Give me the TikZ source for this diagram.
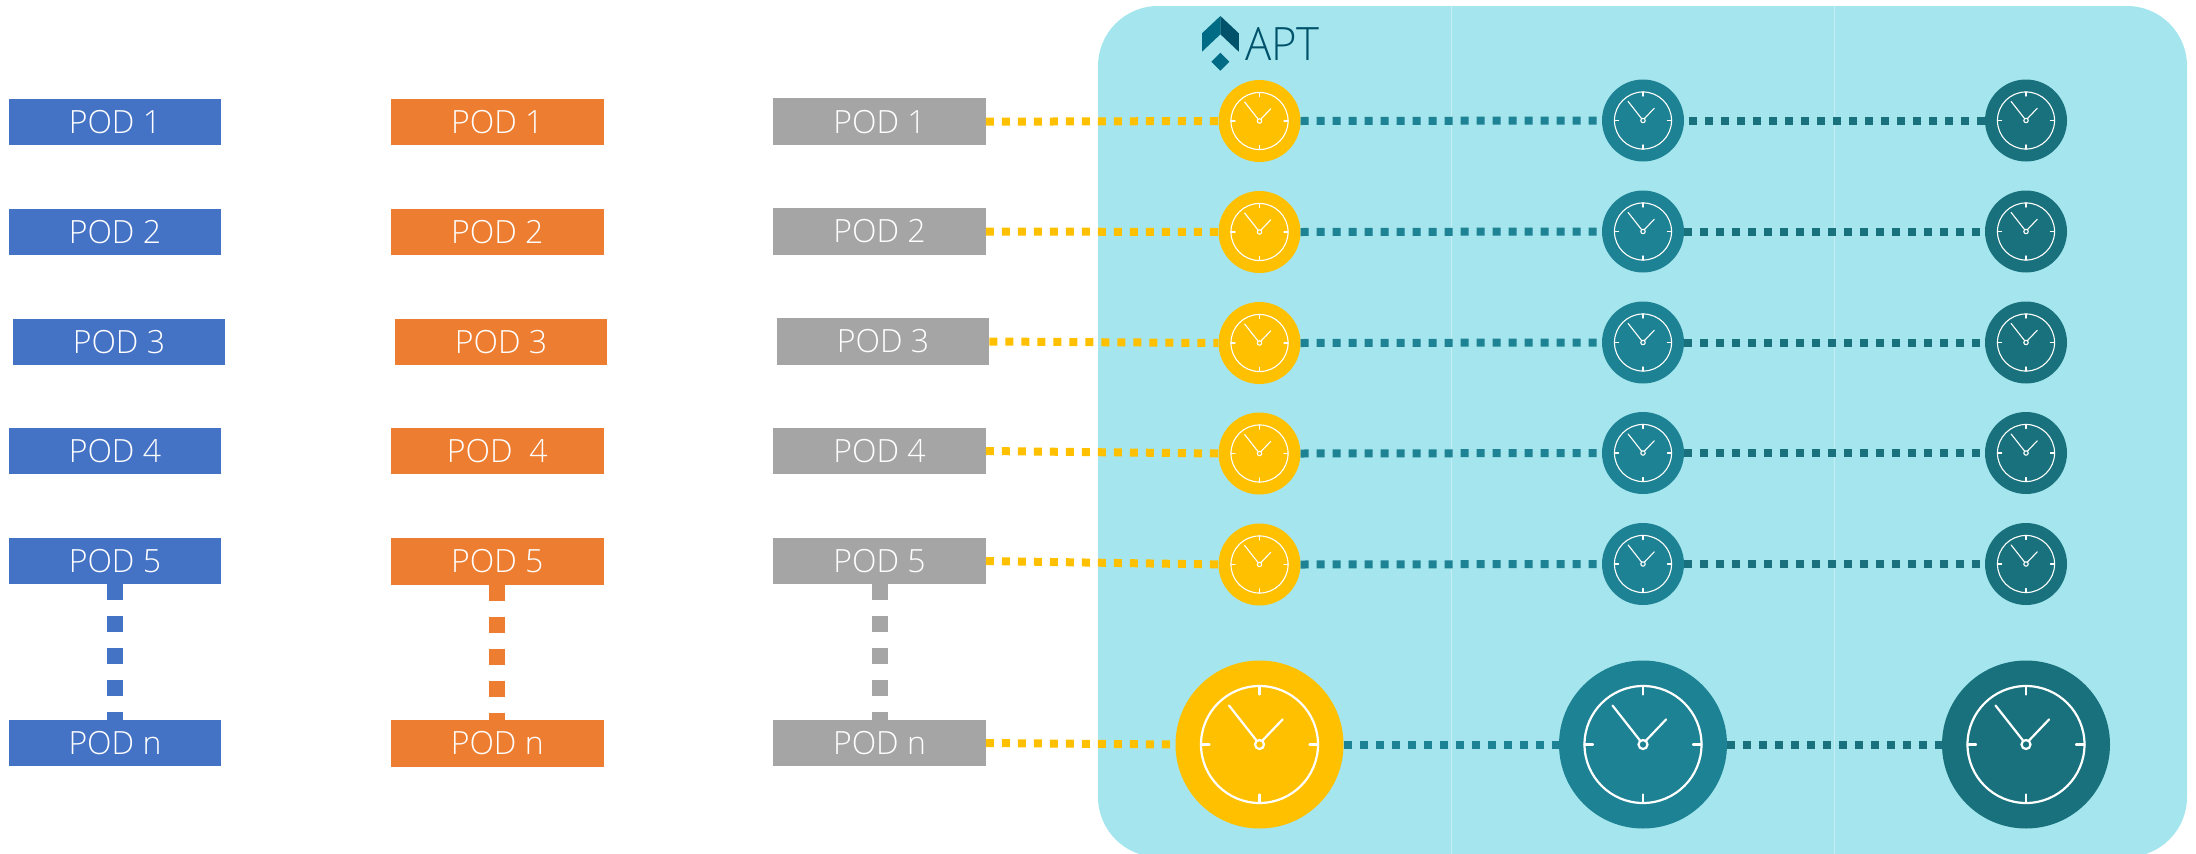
\documentclass[tikz,border=0pt]{standalone}
\usepackage{fontspec}
\setmainfont{Open Sans Light}
\definecolor{panel}{HTML}{A5E6EE}
\definecolor{panelline}{HTML}{C4EEF3}
\definecolor{podblue}{HTML}{4472C4}
\definecolor{podorange}{HTML}{ED7D31}
\definecolor{podgray}{HTML}{A5A5A5}
\definecolor{clockyellow}{HTML}{FFC000}
\definecolor{clockteal}{HTML}{1D8293}
\definecolor{clockdark}{HTML}{18717C}
\definecolor{logoa}{HTML}{006B84}
\definecolor{logob}{HTML}{00526B}
\tikzset{
  x=1pt,y=-1pt,
  podbox/.style={rectangle,inner sep=0pt,minimum width=212.5pt,minimum height=46.5pt,text=white,font=\fontsize{32}{32}\selectfont},
  clockdisc/.style={circle,inner sep=0pt,draw=none},
  hlink/.style={line width=8pt,dash pattern=on 8pt off 8pt},
  vlink/.style={line width=16pt,dash pattern=on 16pt off 16pt},
}
\newcommand{\clockat}[6]{% name, x, y, radius, colour, line width
  \node[clockdisc,fill=#5,minimum size=#4*2pt] (#1) at (#2,#3) {};
  \begin{scope}[shift={(#2,#3)},draw=white,line width=#6pt,x=#4/84*1pt,y=-#4/84*1pt,line cap=round]
    \draw (0,0) circle[radius=58.5];
    \draw (0,-58.5) -- (0,-50) (0,58.5) -- (0,50) (-58.5,0) -- (-50,0) (58.5,0) -- (50,0);
    \draw (0,0) circle[radius=4.5];
    \draw (-3,-4) -- (-30.5,-39) (3,-4) -- (23,-25);
  \end{scope}
}
\begin{document}
\begin{tikzpicture}
\useasboundingbox (0,0) rectangle (2196,854);
\begin{scope}
\clip (0,0) rectangle (2196,854);
\fill[panel,rounded corners=60pt] (1098,6) rectangle (2187,857);
\end{scope}
\draw[panelline,line width=1pt] (1451.5,6) -- (1451.5,854);
\draw[panelline,line width=1pt] (1834.5,6) -- (1834.5,854);
% logo
\fill[logoa] (1220.4,16) -- (1202,33.3) -- (1202,51.7) -- (1220.4,34.3) -- cycle;
\fill[logob] (1220.4,16) -- (1238.8,33.3) -- (1238.8,51.7) -- (1220.4,34.3) -- cycle;
\fill[logoa] (1220.4,52.7) -- (1229.4,61.7) -- (1220.4,70.7) -- (1211.4,61.7) -- cycle;
\node[anchor=base west,inner sep=0pt,text=logob,font=\fontsize{46}{46}\selectfont,xscale=.95] (logotext) at (1245,60) {APT};
% pods
\node[podbox,fill=podblue] (b1) at (115,122) {POD 1};
\node[podbox,fill=podblue] (b2) at (115,232) {POD 2};
\node[podbox,fill=podblue] (b3) at (119,342) {POD 3};
\node[podbox,fill=podblue] (b4) at (115,451) {POD 4};
\node[podbox,fill=podblue] (b5) at (115,561) {POD 5};
\node[podbox,fill=podblue] (bn) at (115,743) {POD n};
\node[podbox,fill=podorange] (o1) at (497.3,122) {POD 1};
\node[podbox,fill=podorange] (o2) at (497.3,232) {POD 2};
\node[podbox,fill=podorange] (o3) at (501,342) {POD 3};
\node[podbox,fill=podorange] (o4) at (497.3,451) {POD\ \ 4};
\node[podbox,fill=podorange] (o5) at (497.3,561.5) {POD 5};
\node[podbox,fill=podorange] (on) at (497.3,743.5) {POD n};
\node[podbox,fill=podgray] (g1) at (879.5,121.7) {POD 1};
\node[podbox,fill=podgray] (g2) at (879.5,231.5) {POD 2};
\node[podbox,fill=podgray] (g3) at (883,341.5) {POD 3};
\node[podbox,fill=podgray] (g4) at (879.5,451) {POD 4};
\node[podbox,fill=podgray] (g5) at (879.5,561) {POD 5};
\node[podbox,fill=podgray] (gn) at (879.5,743) {POD n};
% clocks
\clockat{y1}{1259.5}{121}{41}{clockyellow}{1.1}
\clockat{t1}{1643}{120.5}{41}{clockteal}{1.1}
\clockat{d1}{2026}{120.5}{41}{clockdark}{1.1}
\clockat{y2}{1259.5}{232}{41}{clockyellow}{1.1}
\clockat{t2}{1643}{231.5}{41}{clockteal}{1.1}
\clockat{d2}{2026}{231.5}{41}{clockdark}{1.1}
\clockat{y3}{1259.5}{343}{41}{clockyellow}{1.1}
\clockat{t3}{1643}{342.5}{41}{clockteal}{1.1}
\clockat{d3}{2026}{342.5}{41}{clockdark}{1.1}
\clockat{y4}{1259.5}{453.5}{41}{clockyellow}{1.1}
\clockat{t4}{1643}{453}{41}{clockteal}{1.1}
\clockat{d4}{2026}{453}{41}{clockdark}{1.1}
\clockat{y5}{1259.5}{564.5}{41}{clockyellow}{1.1}
\clockat{t5}{1643}{564}{41}{clockteal}{1.1}
\clockat{d5}{2026}{564}{41}{clockdark}{1.1}
\clockat{yn}{1259.5}{744.5}{84}{clockyellow}{2.2}
\clockat{tn}{1643}{744.5}{84}{clockteal}{2.2}
\clockat{dn}{2026}{744.5}{84}{clockdark}{2.2}
% connectors
\foreach \r in {1,2,3,4,5,n}{
  \draw[hlink,clockyellow] (g\r.east) -- (y\r.west);
  \draw[hlink,clockteal] (y\r.east) -- (t\r.west);
}
\draw[hlink,clockdark,dash phase=11.4pt] (t1.east) -- (d1.west);
\foreach \r in {2,3,4,5,n}{
  \draw[hlink,clockdark] (t\r.east) -- (d\r.west);
}
\draw[vlink,podblue] (b5.south) -- (bn.north);
\draw[vlink,podorange] (o5.south) -- (on.north);
\draw[vlink,podgray] (g5.south) -- (gn.north);
\end{tikzpicture}
\end{document}
